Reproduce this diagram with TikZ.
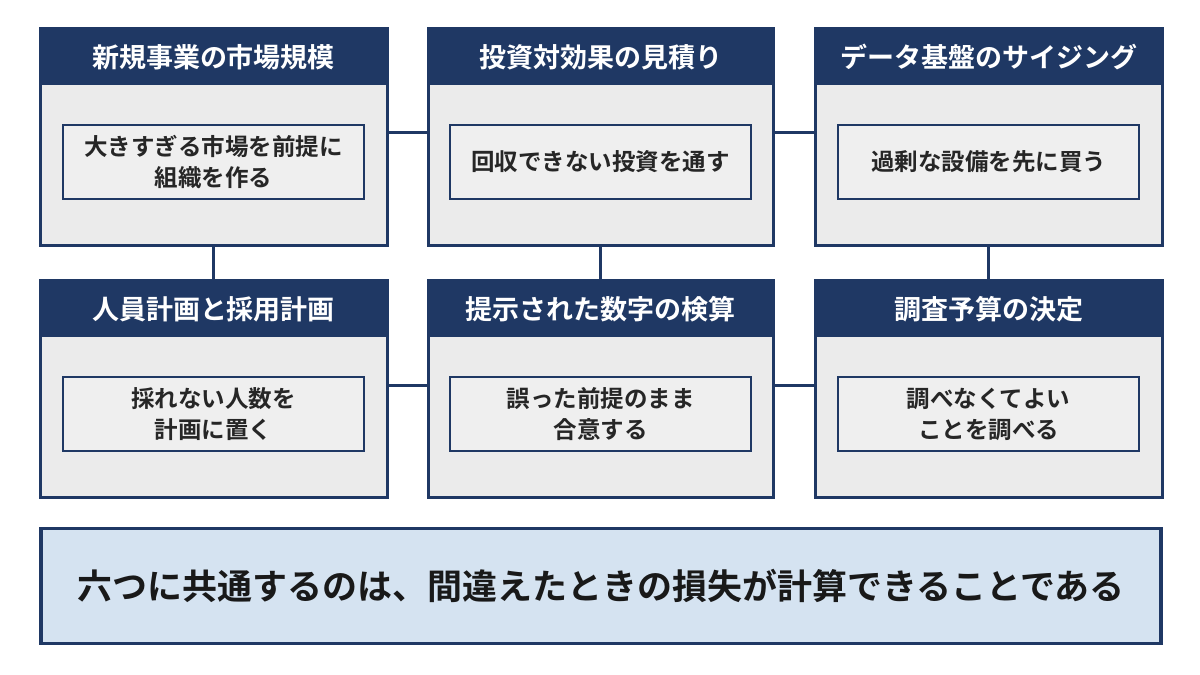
\documentclass[tikz,border=0pt]{standalone}
\usepackage{fontspec}
\setmainfont{Noto Sans CJK JP}[BoldFont={* Bold}]
\begin{document}
\definecolor{navy}{HTML}{1F3864}
\definecolor{cardbg}{HTML}{EBEBEB}
\definecolor{innerbg}{HTML}{EFEFEF}
\definecolor{sumbg}{HTML}{D5E3F1}
\begin{tikzpicture}[x=1pt,y=-1pt,
 card/.style={draw=navy,line width=3pt,fill=cardbg},
 head/.style={fill=navy},
 htext/.style={text=white,font=\bfseries\fontsize{27}{30}\selectfont},
 inner/.style={draw=navy,line width=2.5pt,fill=innerbg,minimum width=301pt,minimum height=74pt,align=center,font=\bfseries\fontsize{23.5}{31}\selectfont,text=black!85},
 link/.style={draw=navy,line width=3pt}]
\useasboundingbox (0,0) rectangle (1200,675);
\fill[white] (0,0) rectangle (1200,675);
\coordinate (h1a) at (387,132); \coordinate (h1b) at (428,132);
\coordinate (h2a) at (773,132); \coordinate (h2b) at (815,132);
\coordinate (h3a) at (387,385); \coordinate (h3b) at (428,385);
\coordinate (h4a) at (773,385); \coordinate (h4b) at (815,385);
\coordinate (v1a) at (213,243); \coordinate (v1b) at (213,280);
\coordinate (v2a) at (600,243); \coordinate (v2b) at (600,280);
\coordinate (v3a) at (988,243); \coordinate (v3b) at (988,280);
\foreach \a/\b in {h1a/h1b,h2a/h2b,h3a/h3b,h4a/h4b,v1a/v1b,v2a/v2b,v3a/v3b}
  \draw[link] (\a) -- (\b);
\foreach \x/\w/\y/\n/\t/\b in {
 40/347/28/c1/新規事業の市場規模/{大きすぎる市場を前提に\\組織を作る},
 428/345/28/c2/投資対効果の見積り/{回収できない投資を通す},
 815/347/28/c3/データ基盤のサイジング/{過剰な設備を先に買う},
 40/347/280/c4/人員計画と採用計画/{採れない人数を\\計画に置く},
 428/345/280/c5/提示された数字の検算/{誤った前提のまま\\合意する},
 815/347/280/c6/調査予算の決定/{調べなくてよい\\ことを調べる}}{
  \draw[card] (\x,\y) rectangle ++(\w,217);
  \fill[head] (\x,\y) rectangle ++(\w,57);
  \draw[navy,line width=3pt] (\x,\y) rectangle ++(\w,217);
  \node[htext] (\n h) at (\x+\w/2,\y+29) {\t};
  \node[inner] (\n i) at (\x+\w/2,\y+134) {\b};
}
\node[draw=navy,line width=3.5pt,fill=sumbg,minimum width=1120pt,minimum height=115pt,
 font=\bfseries\fontsize{35}{40}\selectfont,text=black!90] (sum) at (601,586)
 {六つに共通するのは、間違えたときの損失が計算できることである};
\end{tikzpicture}
\end{document}
